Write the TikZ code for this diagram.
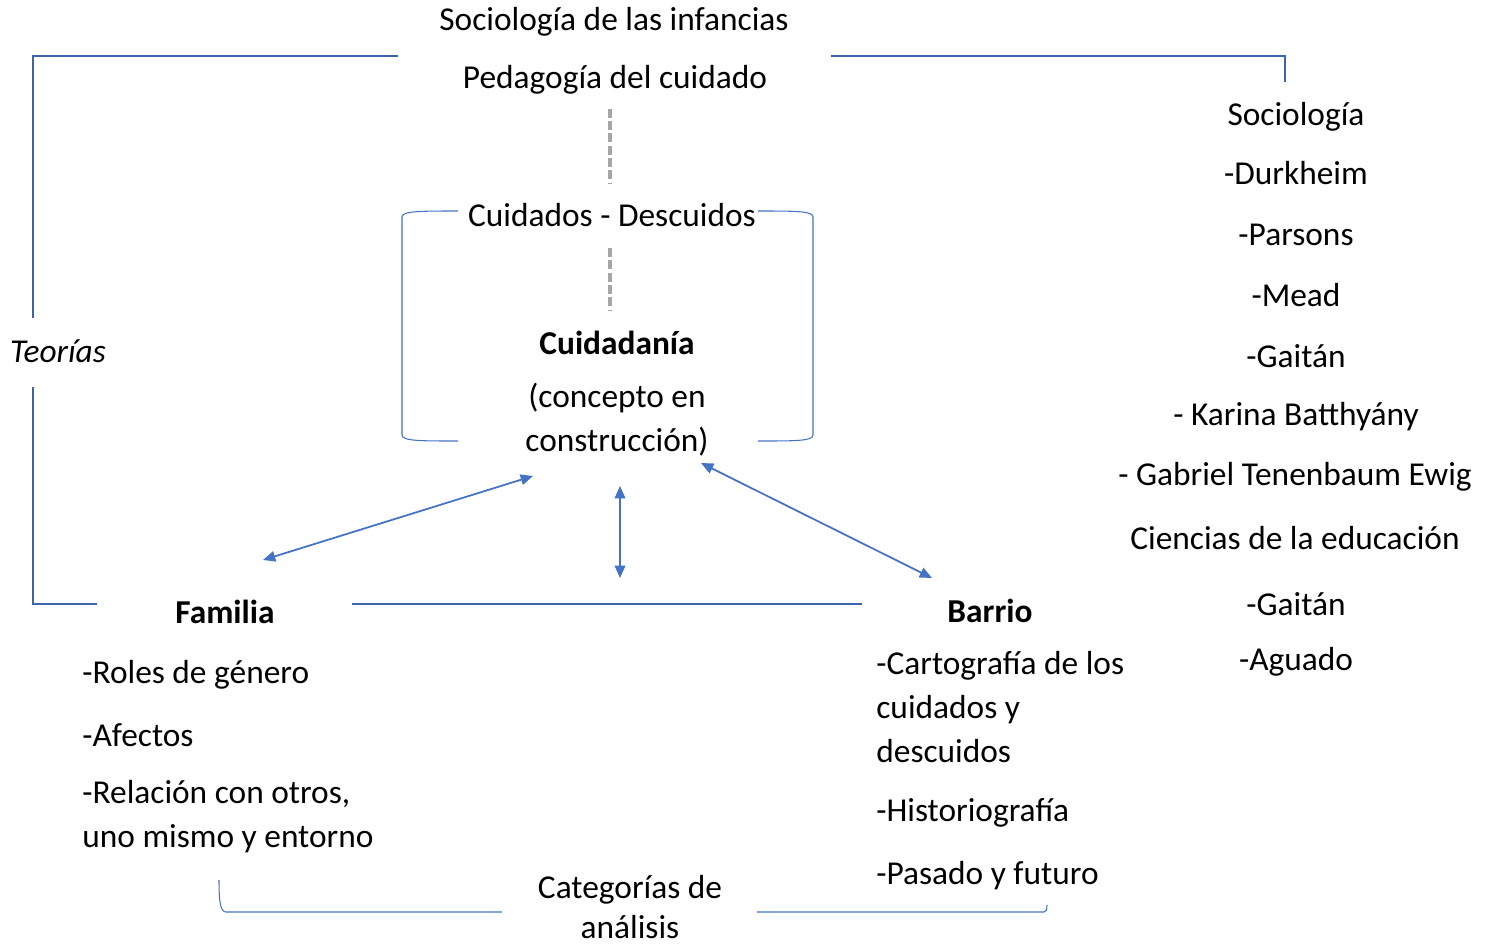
\documentclass[tikz,border=0pt]{standalone}
\usepackage{fontspec}
\setmainfont{Carlito}
\usetikzlibrary{arrows.meta}
\definecolor{brkblue}{HTML}{3B64AD}
\definecolor{arrblue}{HTML}{4472C4}
\definecolor{dashgray}{HTML}{A6A6A6}
\tikzset{
  lbl/.style={inner sep=0pt, font=\fontsize{19}{25}\selectfont},
  lst/.style={lbl, anchor=west, align=left},
  brk/.style={brkblue, line width=1.1pt},
  thinbrk/.style={arrblue, line width=0.6pt},
  link/.style={arrblue, line width=1pt, {Triangle[length=7pt,width=6pt]}-{Triangle[length=7pt,width=6pt]}},
  dsh/.style={dashgray, line width=1.8pt, dash pattern=on 5pt off 2pt}
}

\begin{document}
\begin{tikzpicture}[x=0.02cm, y=-0.02cm]
  \useasboundingbox (0,0) rectangle (1490,947);

  % top titles
  \node[lbl] (soc) at (614,22) {Sociología de las infancias};
  \node[lbl] (ped) at (615,80) {Pedagogía del cuidado};
  \node[lbl] (cui) at (612,215) {Cuidados - Descuidos};
  \node[lbl, font=\fontsize{19}{25}\selectfont\bfseries] (cdn) at (617,343) {Cuidadanía};
  \node[lbl, align=center] (cpt) at (617,420) {(concepto en\\construcción)};

  \coordinate (dx) at (610,0);
  \draw[dsh, shorten <=8pt, shorten >=11pt] (ped.south -| dx) -- (cui.north -| dx);
  \draw[dsh, shorten <=12pt, shorten >=12pt] (cui.south -| dx) -- (cdn.north -| dx);

  % teorias bracket
  \draw[brk] (33,318) |- (398,56);
  \draw[brk] (831,56) -| (1285,82);
  \draw[brk] (33,387) |- (97,604);
  \node[lbl, font=\fontsize{19}{25}\selectfont\itshape] (teo) at (58,351) {Teorías};

  % cuidadania bracket
  \draw[thinbrk] (458,211) .. controls (420,211) and (402,211) .. (402,217) -- (402,435)
                 .. controls (402,441) and (420,441) .. (458,441);
  \draw[thinbrk] (758,211) .. controls (796,211) and (813,211) .. (813,217) -- (813,435)
                 .. controls (813,441) and (796,441) .. (758,441);

  % familia / barrio
  \node[lbl, font=\fontsize{19}{25}\selectfont\bfseries] (fam) at (225,612) {Familia};
  \node[lbl, font=\fontsize{19}{25}\selectfont\bfseries] (bar) at (990,611) {Barrio};
  \coordinate (lnA) at (352,604);
  \coordinate (lnB) at (862,604);
  \draw[brk] (lnA) -- (lnB);

  \coordinate (famA) at (263,560);
  \coordinate (cptA) at (533,476);
  \coordinate (cptB) at (620,486);
  \coordinate (midB) at (620,578);
  \coordinate (cptC) at (701,463);
  \coordinate (barC) at (932,578);
  \draw[link] (famA) -- (cptA);
  \draw[link] (cptB) -- (midB);
  \draw[link] (cptC) -- (barC);

  \node[lst] (rol) at (82,675) {-Roles de género};
  \node[lst] (afe) at (82,735) {-Afectos};
  \node[lst] (rel) at (82,817) {-Relación con otros,\\uno mismo y entorno};

  \node[lst] (car) at (876,707) {-Cartografía de los\\cuidados y\\descuidos};
  \node[lst] (his) at (876,813) {-Historiografía};
  \node[lst] (pas) at (876,876) {-Pasado y futuro};

  % categorias bracket
  \draw[thinbrk] (219,880) .. controls (219,900) and (220,912) .. (226,912) -- (502,912);
  \draw[thinbrk] (757,912) -- (1044,912) .. controls (1046,912) and (1047,910) .. (1047,905);
  \node[lbl, align=center, font=\fontsize{19}{23}\selectfont] (cat) at (630,907) {Categorías de\\análisis};

  % autores
  \node[lbl] (sog) at (1296,117) {Sociología};
  \node[lbl] (dur) at (1296,173) {-Durkheim};
  \node[lbl] (par) at (1296,235) {-Parsons};
  \node[lbl] (mea) at (1296,295) {-Mead};
  \node[lbl] (gai) at (1296,356) {-Gaitán};
  \node[lbl] (kar) at (1296,417) {- Karina Batthyány};
  \node[lbl] (gab) at (1295,477) {- Gabriel Tenenbaum Ewig};
  \node[lbl] (cie) at (1295,538) {Ciencias de la educación};
  \node[lbl] (gai2) at (1296,604) {-Gaitán};
  \node[lbl] (agu) at (1296,662) {-Aguado};
\end{tikzpicture}
\end{document}
